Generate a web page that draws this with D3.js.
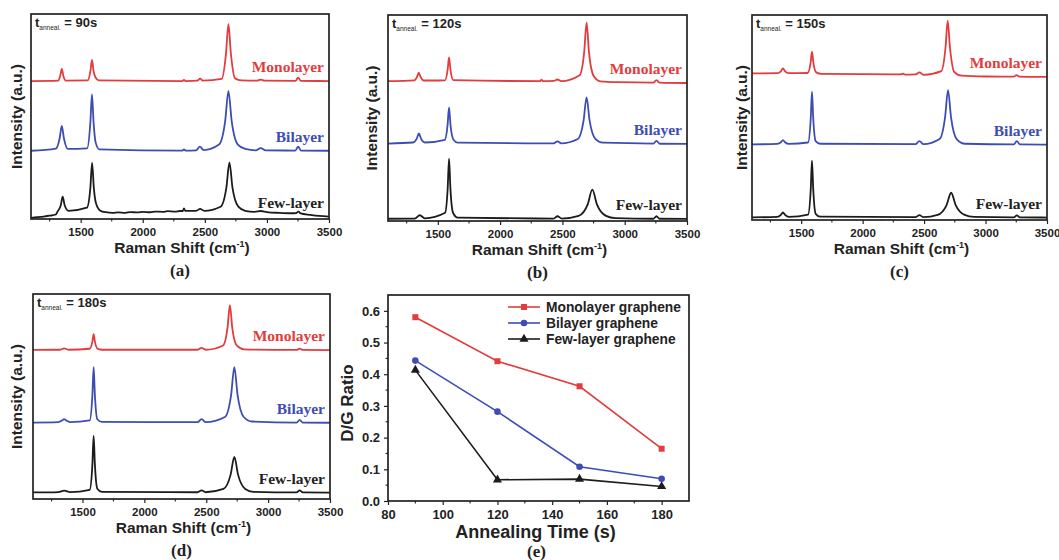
<!DOCTYPE html>
<html><head><meta charset="utf-8">
<script src="https://cdn.jsdelivr.net/npm/d3@7"></script>
<style>body{margin:0;background:#fff} svg{display:block}</style>
</head><body><svg id="c" width="1059" height="560"></svg>
<script>
// ---------------- DATA ----------------
const ramanTicks = [1500, 2000, 2500, 3000, 3500];
const ramanDomain = [1100, 3500];
const layerNames = ["Monolayer", "Bilayer", "Few-layer"];
const annealTimes = ["90s", "120s", "150s", "180s"];
const panelLetters = ["(a)", "(b)", "(c)", "(d)", "(e)"];

// Spectra: [Raman shift (cm^-1), stacked intensity (a.u., 0-100 of plot height)]
const specA_mono = [[1100,67.3],[1320,67.5],[1334,69.5],[1348,73.2],[1362,69.5],[1380,67.5],[1556,67.6],[1579,72.4],[1591,77.6],[1603,72.4],[1620,69],[1645,67.6],[2320,67.3],[2332,67.9],[2344,67.3],[2440,67.5],[2462,68.5],[2484,67.5],[2636,68.3],[2671,81.2],[2690,95.1],[2709,81.2],[2744,68.6],[2795,67.6],[2920,67.5],[2950,68.0],[2980,67.5],[3230,67.4],[3252,69.0],[3272,67.4],[3500,67.3]];
const specA_bi = [[1100,33.3],[1300,34.3],[1331,39.4],[1348,45.4],[1365,39.4],[1396,34.2],[1552,34.5],[1578,47],[1591,60.8],[1604,47],[1620,37.5],[1650,34],[2320,33.4],[2332,34],[2344,33.4],[2430,33.5],[2460,35.3],[2490,33.6],[2614,36.3],[2664,47.9],[2690,62.4],[2716,47.9],[2766,36.3],[2825,34.2],[2910,33.5],[2950,34.6],[2990,33.5],[3228,33.4],[3252,35.3],[3274,33.4],[3500,33.3]];
const specA_few = [[1100,0.5],[1150,0.9],[1200,1.2],[1250,1.6],[1300,2.2],[1312,3.5],[1340,6.7],[1355,10.9],[1371,6.7],[1402,4],[1550,5.5],[1578,15.2],[1592,27.5],[1606,15.2],[1622,8],[1655,4.2],[1700,3.3],[1760,3.0],[1800,3.2],[1860,3.0],[1900,3.4],[1960,3.2],[2000,3.5],[2060,3.3],[2100,3.6],[2160,3.5],[2200,3.8],[2260,3.6],[2300,3.9],[2322,3.9],[2332,5.2],[2342,4],[2430,4],[2462,4.9],[2495,4],[2626,6],[2674,15.6],[2698,27.6],[2722,15.6],[2770,6],[2825,4],[2900,3.5],[2950,3.9],[3000,3.4],[3100,3],[3200,2.8],[3235,2.9],[3254,3.6],[3272,2.7],[3350,2],[3420,1.5],[3500,1.2]];

const specB_mono = [[1100,67.9],[1310,68.3],[1333,70],[1347,72.0],[1361,70],[1388,68.2],[1450,68.2],[1558,68.3],[1579,73.6],[1590,79.4],[1601,73.6],[1624,68.4],[2322,67.9],[2332,68.6],[2342,67.9],[2430,68],[2460,68.7],[2490,67.9],[2638,70.8],[2675,82.1],[2694,96.3],[2713,82.1],[2750,70.5],[2805,67.8],[2950,67.4],[3230,67.2],[3255,68.4],[3280,67.2],[3500,67.0]];
const specB_bi = [[1100,37.6],[1300,38.1],[1331,40],[1348,42.5],[1365,40],[1396,38.1],[1556,39.4],[1578,46.4],[1590,55.1],[1602,46.4],[1626,39.4],[1660,38],[2430,37.7],[2460,38.7],[2490,37.7],[2624,39.8],[2670,48.8],[2694,60],[2718,48.8],[2764,39.9],[2825,38],[3230,37.6],[3255,38.9],[3280,37.5],[3500,37.4]];
const specB_few = [[1100,1.1],[1315,1.2],[1355,2.8],[1395,1.3],[1558,4],[1579,15.7],[1590,30.3],[1601,15.7],[1622,4],[1660,1.6],[2430,1.2],[2460,2.3],[2495,1.2],[2630,2.5],[2703,8.1],[2740,15.2],[2777,8.1],[2850,2.5],[2925,1.4],[3230,1.1],[3255,2.3],[3280,1.1],[3500,1.0]];

const specC_mono = [[1100,71.5],[1306,71.6],[1335,72.5],[1352,74.0],[1369,72.5],[1399,71.6],[1552,71.7],[1577,76.8],[1588,82.1],[1599,76.8],[1623,72],[1665,71.3],[2300,71],[2330,71.4],[2345,70.9],[2430,71],[2462,72],[2495,70.8],[2640,72.6],[2675,84.5],[2692,97.2],[2710,84.5],[2745,72.3],[2805,70.4],[3000,70],[3230,69.9],[3253,70.7],[3276,69.9],[3500,69.8]];
const specC_bi = [[1100,36.9],[1306,37.1],[1335,37.9],[1352,39],[1369,37.9],[1399,37.1],[1556,37.8],[1578,49.7],[1588,62.6],[1598,49.7],[1618,38.5],[1655,37.2],[2430,37],[2462,38.5],[2495,37],[2626,39.5],[2671,50.2],[2695,63.4],[2719,50.2],[2765,39.5],[2835,37.2],[3230,36.9],[3255,38.5],[3280,36.9],[3500,36.8]];
const specC_few = [[1100,1.3],[1306,1.5],[1335,2.5],[1352,3.7],[1369,2.5],[1399,1.5],[1556,2.6],[1578,15.1],[1588,28.9],[1598,15.1],[1618,3],[1655,1.6],[2430,1.4],[2462,2.4],[2495,1.4],[2610,2.5],[2683,7.3],[2720,13.3],[2757,7.3],[2830,2.5],[2905,1.5],[3230,1.3],[3255,2.3],[3280,1.3],[3500,1.2]];

const specD_mono = [[1100,72.7],[1320,72.8],[1352,73.5],[1385,72.8],[1558,73.3],[1579,76.5],[1590,80.4],[1601,76.5],[1624,73.2],[1660,72.8],[2430,72.8],[2462,73.7],[2495,72.8],[2636,74.9],[2672,83.6],[2691,94.6],[2710,83.6],[2746,74.9],[2805,73],[3230,72.7],[3255,73.4],[3280,72.7],[3500,72.6]];
const specD_bi = [[1100,37.3],[1306,37.5],[1335,38.3],[1352,39],[1369,38.3],[1399,37.5],[1558,38.3],[1580,50.8],[1590,64.3],[1600,50.8],[1620,38.9],[1656,37.6],[2430,37.5],[2462,39],[2495,37.5],[2651,40],[2701,50.8],[2727,64.3],[2753,50.8],[2803,40],[2870,37.8],[3230,37.3],[3255,38.6],[3280,37.3],[3500,37.2]];
const specD_few = [[1100,3.2],[1306,3.4],[1335,3.8],[1352,4.1],[1369,3.8],[1399,3.4],[1558,4.5],[1580,17],[1590,30.8],[1600,17],[1620,5],[1656,3.5],[2430,3.3],[2462,4.2],[2495,3.3],[2639,4.9],[2697,11.9],[2727,20.5],[2757,11.9],[2815,4.9],[2880,3.5],[3230,3.2],[3255,4.2],[3280,3.2],[3500,3.1]];

// D/G ratio panel
const timeValues = [90, 120, 150, 180];
const ratioMono = [0.580, 0.441, 0.362, 0.165];
const ratioBi   = [0.443, 0.282, 0.108, 0.070];
const ratioFew  = [0.413, 0.067, 0.069, 0.046];
const legendNames = ["Monolayer graphene", "Bilayer graphene", "Few-layer graphene"];
const timeTicks = [80, 100, 120, 140, 160, 180];
const ratioTicks = [0.0, 0.1, 0.2, 0.3, 0.4, 0.5, 0.6];

// ---------------- STYLE / LAYOUT ----------------
const colors = ["#e23c3c", "#3d4db4", "#1c1c1c"];
const sans = "Arial, 'Liberation Sans', sans-serif";
const serif = "'Times New Roman', 'Liberation Serif', serif";
const frames = [
  {x0:31, x1:329, y0:14, y1:219},
  {x0:388, x1:687, y0:15, y1:221},
  {x0:752, x1:1047, y0:15, y1:220},
  {x0:33, x1:330, y0:294, y1:499},
  {x0:388, x1:689, y0:295, y1:501}
];
const spectra = [
  [specA_mono, specA_bi, specA_few],
  [specB_mono, specB_bi, specB_few],
  [specC_mono, specC_bi, specC_few],
  [specD_mono, specD_bi, specD_few]
];
const ylabOffset = [14, 16, 10, 16];

const svg = d3.select("#c");
svg.append("rect").attr("width",1059).attr("height",560).attr("fill","#fff");

function drawFrame(g, f){
  g.append("rect").attr("x",f.x0).attr("y",f.y0).attr("width",f.x1-f.x0).attr("height",f.y1-f.y0)
   .attr("fill","none").attr("stroke","#222").attr("stroke-width",1.7);
}

spectra.forEach((set, i) => {
  const f = frames[i];
  const g = svg.append("g");
  const x = d3.scaleLinear().domain(ramanDomain).range([f.x0, f.x1]);
  const y = d3.scaleLinear().domain([0,100]).range([f.y1, f.y0]);
  const line = d3.line().x(d => x(d[0])).y(d => y(d[1])).curve(d3.curveMonotoneX);
  set.forEach((s, k) => {
    g.append("path").attr("d", line(s)).attr("fill","none").attr("stroke", colors[k])
     .attr("stroke-width", 1.8).attr("stroke-linejoin","round");
    const last = s[s.length-1];
    g.append("text").attr("x", f.x1 - 5).attr("y", y(last[1]) - 9)
     .attr("text-anchor","end").attr("font-family", serif).attr("font-weight","bold")
     .attr("font-size", 15.5).attr("fill", k===2 ? "#222" : colors[k]).text(layerNames[k]);
  });
  const ax = d3.axisBottom(x).tickValues(ramanTicks).tickSize(4).tickSizeOuter(0).tickPadding(5).tickFormat(d3.format("d"));
  const axG = g.append("g").attr("transform", `translate(0,${f.y1})`).call(ax);
  axG.select(".domain").remove();
  axG.selectAll("line").attr("stroke","#222").attr("stroke-width",1.2);
  axG.selectAll("text").attr("font-family", sans).attr("font-weight","bold").attr("font-size",11.5).attr("fill","#222");
  const minor = d3.range(1250, 3500, 500);
  g.selectAll(null).data(minor).enter().append("line")
   .attr("x1", d => x(d)).attr("x2", d => x(d)).attr("y1", f.y1).attr("y2", f.y1 + 2.5)
   .attr("stroke","#222").attr("stroke-width",1.1);
  drawFrame(g, f);
  const t = g.append("text").attr("x", f.x0 + 4).attr("y", f.y0 + 13)
   .attr("font-family", sans).attr("font-weight","bold").attr("font-size",13).attr("fill","#222");
  t.append("tspan").text("t");
  t.append("tspan").attr("font-size",6.5).attr("font-weight","normal").attr("dy",3).text("anneal.");
  t.append("tspan").attr("dy",-3).text(" = " + annealTimes[i]);
  const xl = g.append("text").attr("x", (f.x0+f.x1)/2 + 2).attr("y", f.y1 + 34)
   .attr("text-anchor","middle").attr("font-family", sans).attr("font-weight","bold").attr("font-size",15.5).attr("fill","#222");
  xl.append("tspan").text("Raman Shift (cm");
  xl.append("tspan").attr("font-size",9).attr("dy",-6).text("-1");
  xl.append("tspan").attr("dy",6).text(")");
  g.append("text").attr("transform", `translate(${f.x0 - ylabOffset[i] + 5},${(f.y0+f.y1)/2}) rotate(-90)`)
   .attr("text-anchor","middle").attr("font-family", sans).attr("font-weight","bold").attr("font-size",15.5).attr("fill","#222")
   .text("Intensity (a.u.)");
  g.append("text").attr("x", (f.x0+f.x1)/2).attr("y", f.y1 + 57)
   .attr("text-anchor","middle").attr("font-family", serif).attr("font-weight","bold").attr("font-size",17).attr("fill","#222")
   .text(panelLetters[i]);
});

// ---------------- Panel (e) ----------------
(function(){
  const f = frames[4];
  const g = svg.append("g");
  const x = d3.scaleLinear().domain([80,190]).range([f.x0, f.x1]);
  const y = d3.scaleLinear().domain([0,0.65]).range([f.y1, f.y0]);
  const series = [ratioMono, ratioBi, ratioFew];
  const line = d3.line().x((d,i) => x(timeValues[i])).y(d => y(d));
  const sym = [d3.symbolSquare, d3.symbolCircle, d3.symbolTriangle];
  const symSize = [36, 34, 36];
  series.forEach((s, k) => {
    g.append("path").attr("d", line(s)).attr("fill","none").attr("stroke", colors[k]).attr("stroke-width",1.6);
    g.selectAll(null).data(s).enter().append("path")
     .attr("d", d3.symbol().type(sym[k]).size(symSize[k]))
     .attr("transform", (d,i) => `translate(${x(timeValues[i])},${y(d)})`)
     .attr("fill", colors[k]);
  });
  const ax = d3.axisBottom(x).tickValues(timeTicks).tickSize(4).tickSizeOuter(0).tickPadding(5);
  const axG = g.append("g").attr("transform", `translate(0,${f.y1})`).call(ax);
  axG.select(".domain").remove();
  const ay = d3.axisLeft(y).tickValues(ratioTicks).tickSize(4).tickSizeOuter(0).tickPadding(4).tickFormat(d3.format(".1f"));
  const ayG = g.append("g").attr("transform", `translate(${f.x0},0)`).call(ay);
  ayG.select(".domain").remove();
  [axG, ayG].forEach(a => {
    a.selectAll("line").attr("stroke","#222").attr("stroke-width",1.2);
    a.selectAll("text").attr("font-family", sans).attr("font-weight","bold").attr("font-size",13).attr("fill","#222");
  });
  g.selectAll(null).data(d3.range(90, 190, 20)).enter().append("line")
   .attr("x1", d => x(d)).attr("x2", d => x(d)).attr("y1", f.y1).attr("y2", f.y1 + 2.5)
   .attr("stroke","#222").attr("stroke-width",1.1);
  g.selectAll(null).data([0.05,0.15,0.25,0.35,0.45,0.55]).enter().append("line")
   .attr("y1", d => y(d)).attr("y2", d => y(d)).attr("x1", f.x0).attr("x2", f.x0 - 2.5)
   .attr("stroke","#222").attr("stroke-width",1.1);
  drawFrame(g, f);
  legendNames.forEach((name, k) => {
    const ly = f.y0 + 12 + k*16;
    const lx = f.x0 + 120;
    g.append("line").attr("x1", lx).attr("x2", lx + 32).attr("y1", ly).attr("y2", ly)
     .attr("stroke", colors[k]).attr("stroke-width",1.6);
    g.append("path").attr("d", d3.symbol().type(sym[k]).size(symSize[k]))
     .attr("transform", `translate(${lx+16},${ly})`).attr("fill", colors[k]);
    g.append("text").attr("x", lx + 38).attr("y", ly + 5)
     .attr("font-family", sans).attr("font-weight","bold").attr("font-size",13.8).attr("fill","#222").text(name);
  });
  g.append("text").attr("x", (f.x0+f.x1)/2 - 3).attr("y", f.y1 + 37)
   .attr("text-anchor","middle").attr("font-family", sans).attr("font-weight","bold").attr("font-size",18).attr("fill","#222")
   .text("Annealing Time (s)");
  g.append("text").attr("transform", `translate(${f.x0 - 35},${(f.y0+f.y1)/2 + 5}) rotate(-90)`)
   .attr("text-anchor","middle").attr("font-family", sans).attr("font-weight","bold").attr("font-size",17).attr("fill","#222")
   .text("D/G Ratio");
  g.append("text").attr("x", (f.x0+f.x1)/2 - 2).attr("y", f.y1 + 56)
   .attr("text-anchor","middle").attr("font-family", serif).attr("font-weight","bold").attr("font-size",17).attr("fill","#222")
   .text(panelLetters[4]);
})();
</script></body></html>
